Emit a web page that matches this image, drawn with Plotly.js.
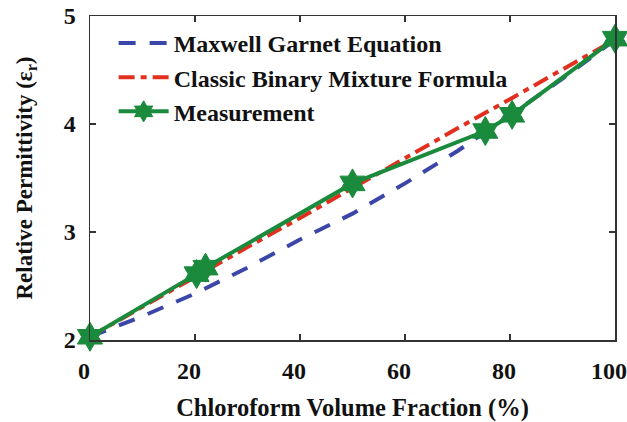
<!DOCTYPE html>
<html>
<head>
<meta charset="utf-8">
<script src="https://cdn.plot.ly/plotly-3.0.1.min.js"></script>
<style>html,body{margin:0;padding:0;background:#fff;}#chart{width:627px;height:422px;}</style>
</head>
<body>
<div id="chart"></div>
<script>
// Maxwell Garnet Equation
const mgX = [0, 10, 20, 30, 40, 50, 60, 70, 80, 90, 100];
const mgY = [2.03, 2.22, 2.43, 2.67, 2.93, 3.17, 3.45, 3.75, 4.08, 4.42, 4.78];
// Classic Binary Mixture Formula
const cbX = [0, 10, 20, 30, 40, 50, 60, 70, 80, 90, 100];
const cbY = [2.03, 2.31, 2.58, 2.86, 3.13, 3.41, 3.68, 3.96, 4.23, 4.51, 4.78];
// Measurement
const msX = [0, 20.3, 22, 50, 75.3, 80.4, 100];
const msY = [2.03, 2.61, 2.67, 3.45, 3.935, 4.085, 4.79];

const xTicks = [0, 20, 40, 60, 80, 100];
const yTicks = [2, 3, 4, 5];

const serif = "Liberation Serif, Times New Roman, serif";

const traces = [
  {x: mgX, y: mgY, name: "Maxwell Garnet Equation", mode: "lines",
   line: {color: "#3b47a8", width: 4, dash: "17px,14px"}},
  {x: cbX, y: cbY, name: "Classic Binary Mixture Formula", mode: "lines",
   line: {color: "#e2301f", width: 4, dash: "16px,6px,6px,6px"}},
  {x: msX, y: msY, name: "Measurement", mode: "lines+markers", cliponaxis: false,
   line: {color: "#1a8a3c", width: 4},
   marker: {symbol: "hexagram", size: 22, color: "#1a8a3c", line: {color: "#1a8a3c", width: 1}}}
];

const axisCommon = {
  showline: true, mirror: "ticks", linecolor: "#333", linewidth: 1.5,
  ticks: "inside", ticklen: 6, tickwidth: 1.2, tickcolor: "#333",
  showgrid: false, zeroline: false, ticklabeloverflow: "allow",
  tickfont: {family: serif, size: 24, color: "#111", weight: "bold"}
};

const layout = {
  width: 627, height: 422,
  margin: {l: 90, r: 12, t: 16, b: 82},
  paper_bgcolor: "#fff", plot_bgcolor: "#fff",
  xaxis: Object.assign({}, axisCommon, {
    range: [0, 100], tickvals: xTicks, ticktext: xTicks.map(String),
    ticklabelstandoff: 9, ticklabelshift: -6,
    title: {text: "Chloroform Volume Fraction (%)", standoff: 19,
            font: {family: serif, size: 24.5, color: "#111", weight: "bold"}}
  }),
  yaxis: Object.assign({}, axisCommon, {
    range: [2, 5], tickvals: yTicks, ticktext: yTicks.map(String),
    ticklabelstandoff: 8,
    title: {text: "Relative Permittivity (ε<sub>r</sub>)", standoff: 24,
            font: {family: serif, size: 23, color: "#111", weight: "bold"}}
  }),
  legend: {x: 0.045, y: 0.985, xanchor: "left", yanchor: "top",
           bgcolor: "rgba(0,0,0,0)", borderwidth: 0, tracegroupgap: 0,
           itemwidth: 50,
           font: {family: serif, size: 24, color: "#111", weight: "bold"}},
  showlegend: true
};

Plotly.newPlot("chart", traces, layout, {displayModeBar: false, staticPlot: true});
</script>
</body>
</html>
